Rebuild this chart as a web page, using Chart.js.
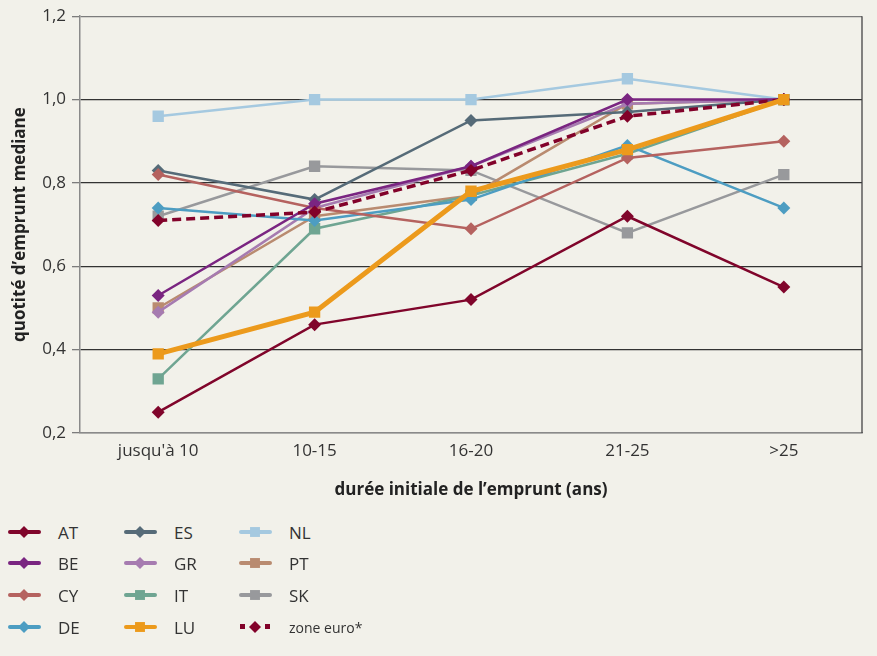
<!DOCTYPE html>
<html>
<head>
<meta charset="utf-8">
<script src="https://cdn.jsdelivr.net/npm/chart.js@4.4.1/dist/chart.umd.min.js"></script>
<style>
  html, body { margin: 0; padding: 0; background: #f2f1ea; }
  body { width: 877px; height: 656px; position: relative; overflow: hidden; font-family: "Open Sans", Roboto, sans-serif; }
  #wrap { position: absolute; left: 0; top: 0; width: 877px; height: 510px; }
  #legend { position: absolute; left: 0; top: 516px; width: 877px; }
  .item { position: absolute; height: 20px; display: flex; align-items: center; font-size: 17px; color: #333; }
  .item canvas { margin-right: 16px; }
</style>
</head>
<body>
<div id="wrap"><canvas id="chart"></canvas></div>
<div id="legend"></div>
<script>
// categories and y ticks
const categories = ["jusqu'à 10", '10-15', '16-20', '21-25', '>25'];
const yTicks = [0.2, 0.4, 0.6, 0.8, 1.0, 1.2];

// median loan-to-value by initial loan length
const AT = [0.25, 0.46, 0.52, 0.72, 0.55];
const BE = [0.53, 0.75, 0.84, 1.00, 1.00];
const CY = [0.82, 0.74, 0.69, 0.86, 0.90];
const DE = [0.74, 0.71, 0.76, 0.89, 0.74];
const ES = [0.83, 0.76, 0.95, 0.97, 1.00];
const GR = [0.49, 0.74, 0.84, 0.99, 1.00];
const IT = [0.33, 0.69, 0.77, 0.87, 1.00];
const LU = [0.39, 0.49, 0.78, 0.88, 1.00];
const NL = [0.96, 1.00, 1.00, 1.05, 1.00];
const PT = [0.50, 0.72, 0.77, 0.99, 1.00];
const SK = [0.72, 0.84, 0.83, 0.68, 0.82];
const EURO = [0.71, 0.73, 0.83, 0.96, 1.00];

const FONT = '"Open Sans"';

function series(label, data, color, pointStyle, extra) {
  return Object.assign({
    label: label,
    data: data,
    borderColor: color,
    backgroundColor: color,
    borderWidth: 2.5,
    pointStyle: pointStyle,
    pointRadius: pointStyle === 'rect' ? 8 : 6.5,
    pointBorderWidth: 0,
    pointHoverRadius: 7,
    tension: 0,
    order: 5
  }, extra || {});
}

const datasets = [
  series('AT', AT, '#80052b', 'rectRot'),
  series('BE', BE, '#7a2581', 'rectRot'),
  series('CY', CY, '#b5625f', 'rectRot'),
  series('DE', DE, '#4d9dc2', 'rectRot'),
  series('ES', ES, '#566b78', 'rectRot'),
  series('GR', GR, '#a67bb0', 'rectRot'),
  series('IT', IT, '#6fa592', 'rect'),
  series('LU', LU, '#ec9a1c', 'rect', { borderWidth: 5, order: 0 }),
  series('NL', NL, '#a5c9e0', 'rect'),
  series('PT', PT, '#b98b70', 'rect'),
  series('SK', SK, '#98999c', 'rect'),
  series('zone euro*', EURO, '#82022a', 'rectRot', { borderWidth: 3.5, borderDash: [9, 5], order: 1 })
];

// right frame line of the plot area
const frame = {
  id: 'frame',
  afterDraw(chart) {
    const a = chart.chartArea, ctx = chart.ctx;
    ctx.save();
    ctx.strokeStyle = '#444';
    ctx.lineWidth = 1.3;
    ctx.beginPath();
    ctx.moveTo(a.right, a.top);
    ctx.lineTo(a.right, a.bottom);
    ctx.stroke();
    ctx.restore();
  }
};

const chart = new Chart(document.getElementById('chart'), {
  type: 'line',
  data: { labels: categories, datasets: datasets },
  options: {
    responsive: true,
    maintainAspectRatio: false,
    animation: false,
    layout: { padding: { top: 16, right: 15, left: 0, bottom: 0 } },
    plugins: { legend: { display: false }, tooltip: { enabled: false } },
    scales: {
      x: {
        offset: true,
        grid: { display: false, drawTicks: false },
        border: { color: '#8a8a8a', width: 1.5 },
        ticks: { color: '#333', padding: 8, font: { family: FONT, size: 17 } },
        title: {
          display: true,
          text: 'durée initiale de l\u2019emprunt (ans)',
          color: '#222',
          font: { family: FONT, size: 17, weight: 'bold' },
          padding: { top: 10, bottom: 10 }
        },
        afterFit(scale) { scale.height = 77; }
      },
      y: {
        min: 0.2,
        max: 1.2,
        afterBuildTicks(scale) { scale.ticks = yTicks.map(v => ({ value: v })); },
        grid: {
          color: ctx => (ctx.index === 0 || ctx.index === yTicks.length - 1) ? '#7c7c7c' : '#333',
          lineWidth: 1.3,
          tickLength: 8,
          tickColor: '#7c7c7c'
        },
        border: { color: '#8a8a8a', width: 1.5 },
        ticks: {
          color: '#333',
          padding: 6,
          font: { family: FONT, size: 17 },
          callback: v => v.toFixed(1).replace('.', ',')
        },
        title: {
          display: true,
          text: 'quotité d\u2019emprunt mediane',
          color: '#222',
          font: { family: FONT, size: 17, weight: 'bold' },
          padding: { top: 10, bottom: 0 }
        },
        afterFit(scale) { scale.width = 80; }
      }
    }
  },
  plugins: [frame]
});

// legend in three columns, filled top to bottom
const legendCols = [8, 124, 239];
const legendRows = [532, 563, 595, 627];
const legendEl = document.getElementById('legend');
chart.data.datasets.forEach((ds, i) => {
  const col = Math.floor(i / 4), row = i % 4;
  const item = document.createElement('div');
  item.className = 'item';
  item.style.left = (legendCols[col] - 2) + 'px';
  item.style.top = (legendRows[row] - 516 - 10) + 'px';
  const c = document.createElement('canvas');
  c.width = 36; c.height = 20;
  const g = c.getContext('2d');
  g.strokeStyle = ds.borderColor;
  g.fillStyle = ds.borderColor;
  g.lineCap = 'round';
  g.lineWidth = 4;
  if (ds.borderDash) {
    g.fillRect(3, 7, 5, 5);
    g.fillRect(28, 7, 5, 5);
  } else {
    g.beginPath(); g.moveTo(4, 10); g.lineTo(33, 10); g.stroke();
  }
  Chart.helpers.drawPoint(g, {
    pointStyle: ds.pointStyle,
    radius: ds.pointStyle === 'rect' ? 7 : 6,
    borderWidth: 0,
    rotation: 0
  }, 18, 10);
  item.appendChild(c);
  const t = document.createElement('span');
  t.textContent = ds.label;
  if (ds.label.startsWith('zone')) t.style.fontSize = '14px';
  item.appendChild(t);
  legendEl.appendChild(item);
});
</script>
</body>
</html>
